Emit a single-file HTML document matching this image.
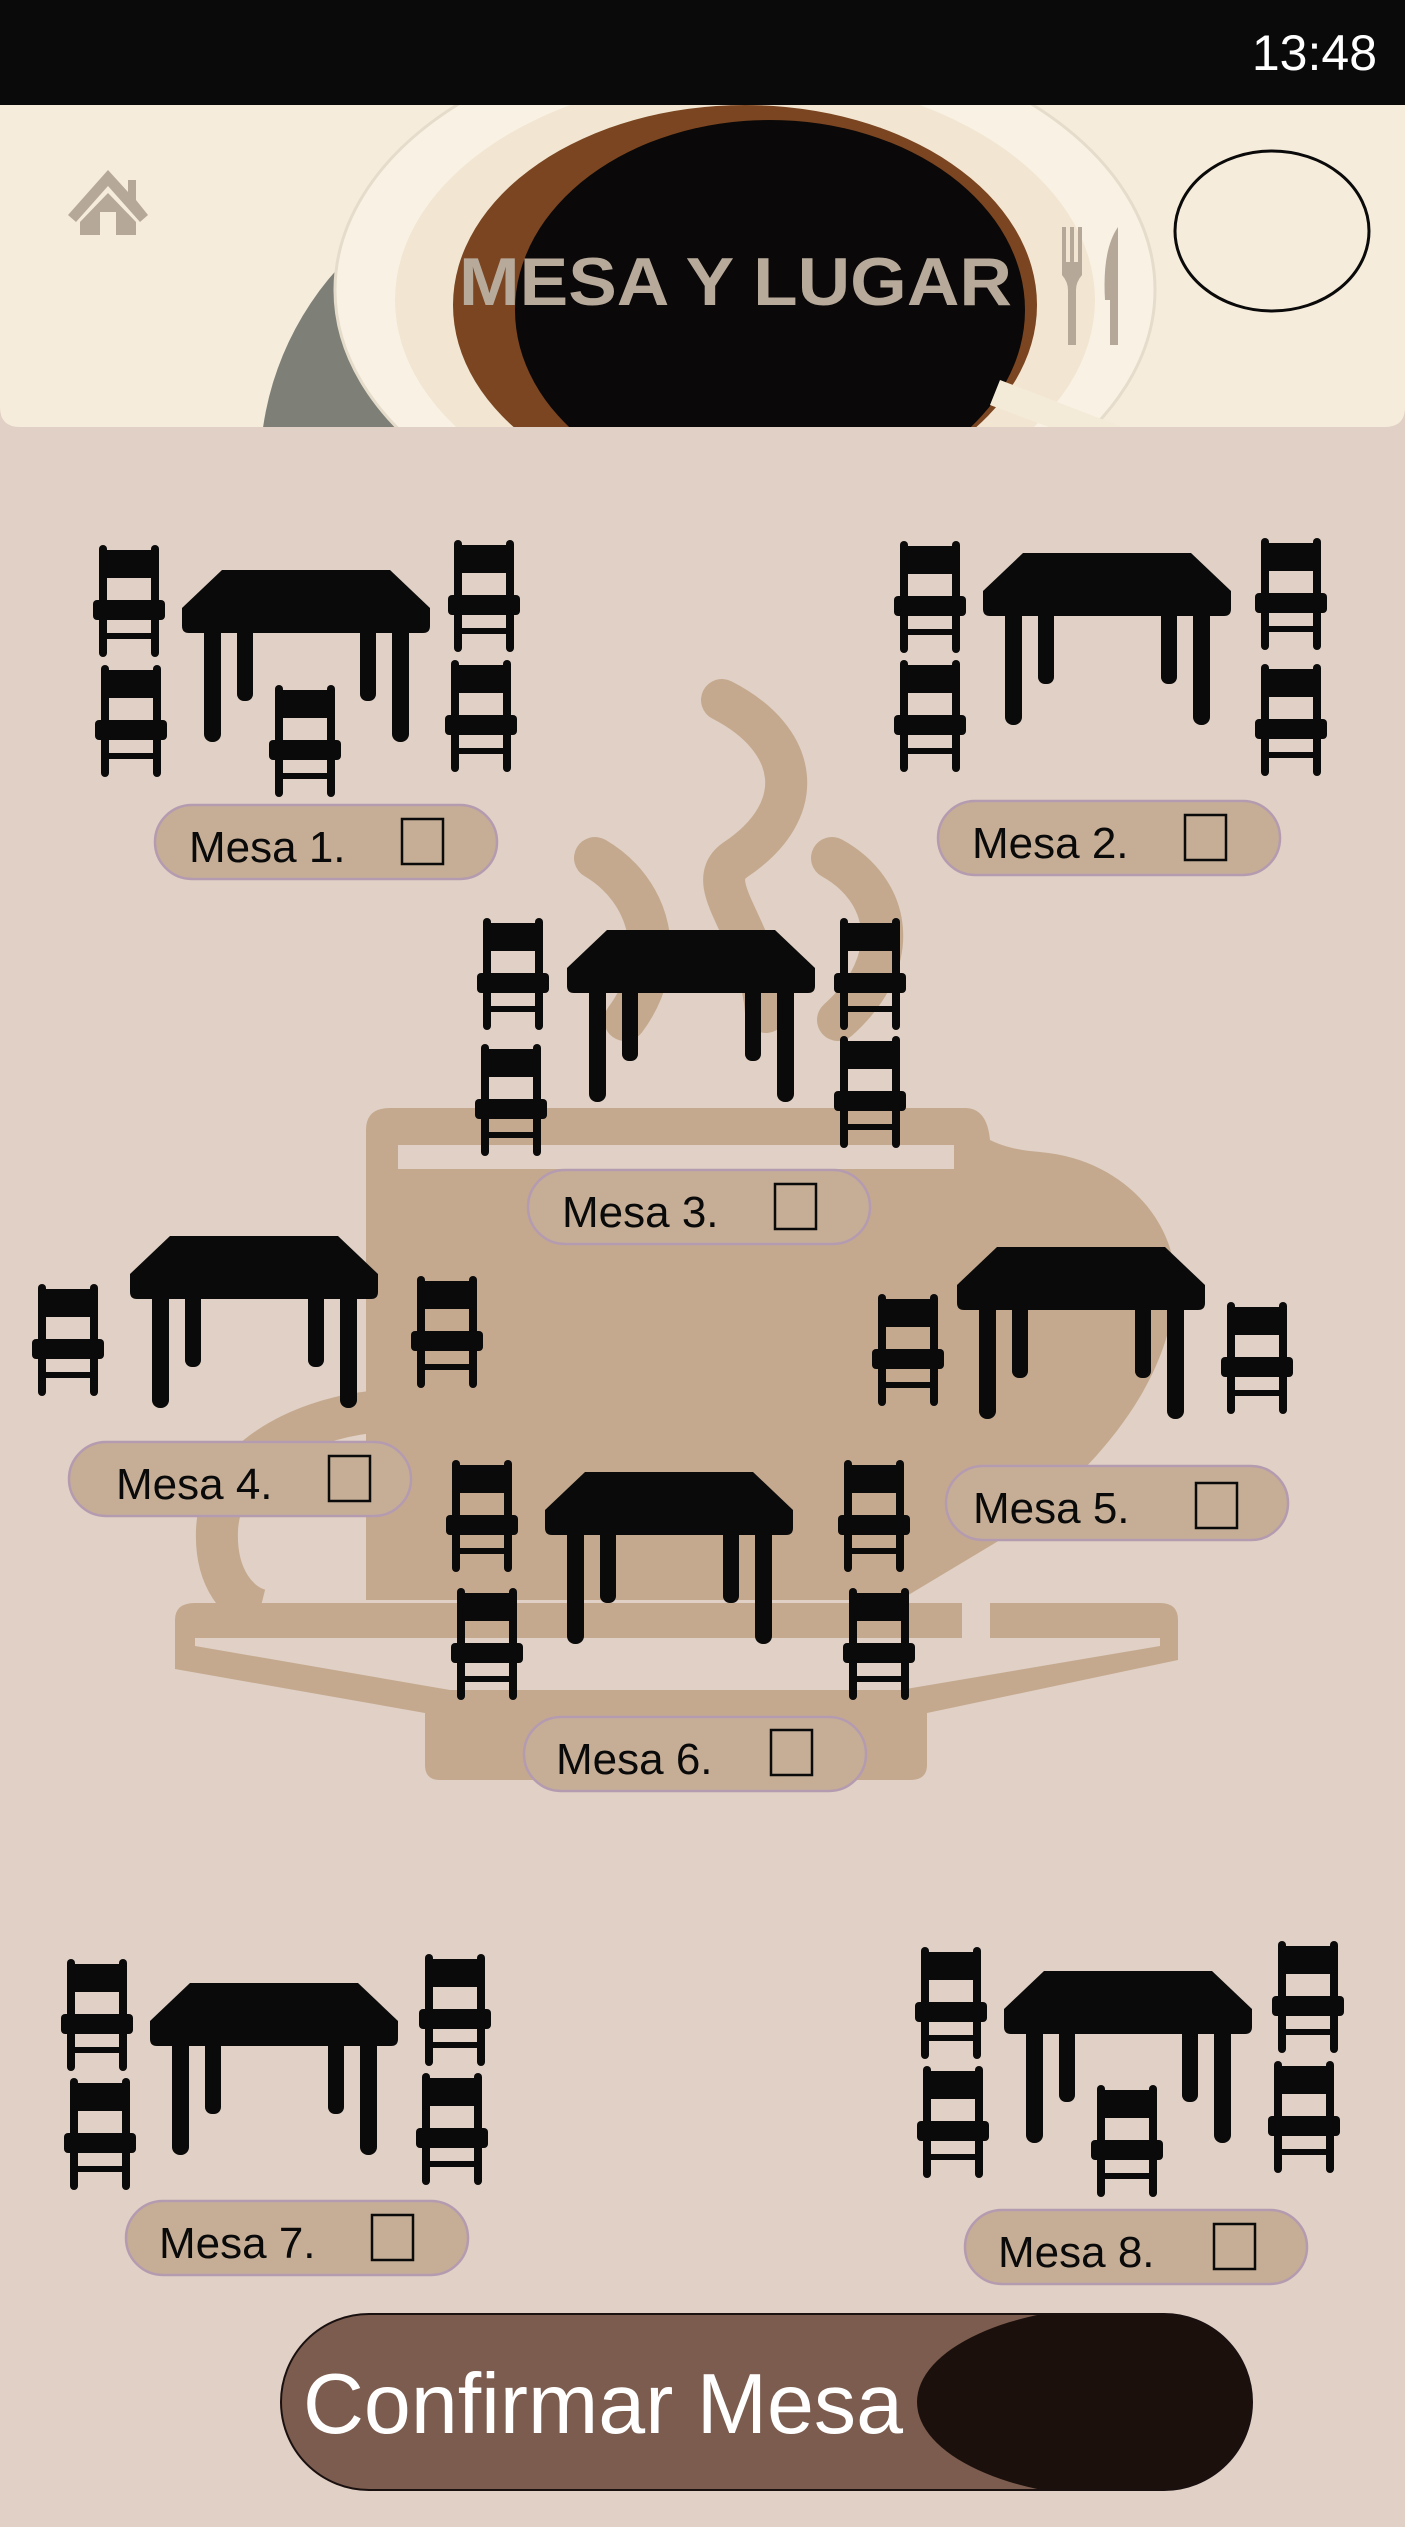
<!DOCTYPE html>
<html><head><meta charset="utf-8"><style>
html,body{margin:0;padding:0;background:#e0d0c5;}
svg{display:block;}
text{font-family:"Liberation Sans",Arial,sans-serif;}
</style></head><body>
<svg width="1405" height="2527" viewBox="0 0 1405 2527" xmlns="http://www.w3.org/2000/svg">
<defs>
<symbol id="table" viewBox="0 0 248 172" width="248" height="172">
<path d="M40,0 H208 L248,38 V56 Q248,63 241,63 H7 Q0,63 0,56 V38 Z" fill="#0a0a0a"/>
<rect x="22" y="55" width="17" height="117" rx="8" fill="#0a0a0a"/>
<rect x="55" y="55" width="16" height="76" rx="7" fill="#0a0a0a"/>
<rect x="178" y="55" width="16" height="76" rx="7" fill="#0a0a0a"/>
<rect x="210" y="55" width="17" height="117" rx="8" fill="#0a0a0a"/>
</symbol>
<symbol id="chair" viewBox="0 0 72 112" width="72" height="112">
<rect x="6" y="0" width="8" height="112" rx="4" fill="#0a0a0a"/>
<rect x="58" y="0" width="8" height="112" rx="4" fill="#0a0a0a"/>
<rect x="6" y="5" width="60" height="28" fill="#0a0a0a"/>
<rect x="0" y="55" width="72" height="20" rx="4" fill="#0a0a0a"/>
<rect x="8" y="88" width="56" height="6" fill="#0a0a0a"/>
</symbol>
<clipPath id="hdrclip"><path d="M0,105 H1405 V407 Q1405,427 1385,427 H20 Q0,427 0,407 Z"/></clipPath>
<clipPath id="btnclip"><rect x="281" y="2314" width="971" height="176" rx="88"/></clipPath>
</defs>

<rect x="0" y="0" width="1405" height="2527" fill="#e0d0c5"/>

<g fill="#c4a98e" stroke="none">
<g fill="none" stroke="#c4a98e" stroke-width="42" stroke-linecap="round">
<path d="M722,700 C800,740 810,810 735,860 C700,885 760,930 766,1012"/>
<path d="M595,858 C650,890 670,960 625,1020"/>
<path d="M832,858 C890,890 905,960 838,1020"/>
</g>
<path d="M366,1130 Q366,1108 390,1108 H965 Q987,1108 990,1140 Q1010,1150 1040,1152 C1130,1160 1180,1230 1175,1290 C1170,1380 1100,1470 1000,1540 L900,1600 H366 Z"/>
<rect x="398" y="1145" width="556" height="24" fill="#e0d0c5"/>
<path d="M371,1412 C300,1420 220,1460 217,1530 C215,1580 240,1605 260,1610" fill="none" stroke="#c4a98e" stroke-width="42"/>
<path d="M195,1603 H1160 Q1178,1603 1178,1620 V1660 L927,1713 V1765 Q927,1780 910,1780 H440 Q425,1780 425,1765 V1713 L175,1669 V1620 Q175,1603 195,1603 Z"/>
<path d="M195,1638 H1160 V1646 L900,1690 H450 L195,1646 Z" fill="#e0d0c5"/>
<rect x="962" y="1600" width="28" height="40" fill="#e0d0c5"/>
</g>

<rect x="0" y="0" width="1405" height="105" fill="#0a0a0a"/>
<text x="1377" y="70" font-size="50" fill="#ffffff" text-anchor="end">13:48</text>

<g clip-path="url(#hdrclip)">
<rect x="0" y="105" width="1405" height="322" fill="#f6ecdc"/>
<ellipse cx="560" cy="470" rx="300" ry="300" fill="#7e8078"/>
<ellipse cx="745" cy="290" rx="410" ry="260" fill="#f9f2e4" stroke="#e6dccb" stroke-width="3"/>
<ellipse cx="745" cy="300" rx="350" ry="225" fill="#f2e6d2"/>
<ellipse cx="745" cy="305" rx="292" ry="200" fill="#7a4520"/>
<ellipse cx="770" cy="310" rx="255" ry="190" fill="#0a0808"/>
<path d="M1000,380 L1130,430 L1110,450 L990,405 Z" fill="#f4ead8"/>
</g>
<g fill="#b5a898">
<path d="M108,170 L68,215 L76,222 L108,186 L140,222 L148,215 L136,200 V180 H128 V192 Z"/>
<path d="M80,222 L108,193 L136,222 V235 H116 V212 H100 V235 H80 Z"/>
</g>
<text x="459" y="305" font-size="68" font-weight="bold" fill="#b8aa9b" textLength="553" lengthAdjust="spacingAndGlyphs">MESA Y LUGAR</text>
<g fill="#b5a898">
<rect x="1062" y="227" width="4" height="40"/><rect x="1070" y="227" width="4" height="40"/><rect x="1078" y="227" width="4" height="40"/>
<path d="M1062,262 H1082 V275 Q1076,282 1076,290 V345 H1068 V290 Q1068,282 1062,275 Z"/>
<path d="M1118,227 Q1102,250 1105,300 H1110 V345 H1118 Z"/>
</g>
<ellipse cx="1272" cy="231" rx="97" ry="80" fill="none" stroke="#0a0a0a" stroke-width="3"/>

<g>
<use href="#table" x="182" y="570"/>
<use href="#chair" x="93" y="545"/>
<use href="#chair" x="95" y="665"/>
<use href="#chair" x="269" y="685"/>
<use href="#chair" x="448" y="540"/>
<use href="#chair" x="445" y="660"/>
</g>
<g>
<use href="#table" x="983" y="553"/>
<use href="#chair" x="894" y="541"/>
<use href="#chair" x="894" y="660"/>
<use href="#chair" x="1255" y="538"/>
<use href="#chair" x="1255" y="664"/>
</g>
<g>
<use href="#table" x="567" y="930"/>
<use href="#chair" x="477" y="918"/>
<use href="#chair" x="475" y="1044"/>
<use href="#chair" x="834" y="918"/>
<use href="#chair" x="834" y="1036"/>
</g>
<g>
<use href="#table" x="130" y="1236"/>
<use href="#chair" x="32" y="1284"/>
<use href="#chair" x="411" y="1276"/>
</g>
<g>
<use href="#table" x="957" y="1247"/>
<use href="#chair" x="872" y="1294"/>
<use href="#chair" x="1221" y="1302"/>
</g>
<g>
<use href="#table" x="545" y="1472"/>
<use href="#chair" x="446" y="1460"/>
<use href="#chair" x="451" y="1588"/>
<use href="#chair" x="838" y="1460"/>
<use href="#chair" x="843" y="1588"/>
</g>
<g>
<use href="#table" x="150" y="1983"/>
<use href="#chair" x="61" y="1959"/>
<use href="#chair" x="64" y="2078"/>
<use href="#chair" x="419" y="1954"/>
<use href="#chair" x="416" y="2073"/>
</g>
<g>
<use href="#table" x="1004" y="1971"/>
<use href="#chair" x="915" y="1947"/>
<use href="#chair" x="917" y="2066"/>
<use href="#chair" x="1091" y="2085"/>
<use href="#chair" x="1272" y="1941"/>
<use href="#chair" x="1268" y="2061"/>
</g>

<g transform="translate(155,805)">
<rect x="0" y="0" width="342" height="74" rx="37" fill="#c6ae96" stroke="#b49bb0" stroke-width="2.5"/>
<text x="34" y="57" font-size="44" fill="#0a0a0a">Mesa 1.</text>
<rect x="247" y="14" width="41" height="45" fill="none" stroke="#0a0a0a" stroke-width="2.5"/>
</g>
<g transform="translate(938,801)">
<rect x="0" y="0" width="342" height="74" rx="37" fill="#c6ae96" stroke="#b49bb0" stroke-width="2.5"/>
<text x="34" y="57" font-size="44" fill="#0a0a0a">Mesa 2.</text>
<rect x="247" y="14" width="41" height="45" fill="none" stroke="#0a0a0a" stroke-width="2.5"/>
</g>
<g transform="translate(528,1170)">
<rect x="0" y="0" width="342" height="74" rx="37" fill="#c6ae96" stroke="#b49bb0" stroke-width="2.5"/>
<text x="34" y="57" font-size="44" fill="#0a0a0a">Mesa 3.</text>
<rect x="247" y="14" width="41" height="45" fill="none" stroke="#0a0a0a" stroke-width="2.5"/>
</g>
<g transform="translate(69,1442)">
<rect x="0" y="0" width="342" height="74" rx="37" fill="#c6ae96" stroke="#b49bb0" stroke-width="2.5"/>
<text x="47" y="57" font-size="44" fill="#0a0a0a">Mesa 4.</text>
<rect x="260" y="14" width="41" height="45" fill="none" stroke="#0a0a0a" stroke-width="2.5"/>
</g>
<g transform="translate(946,1466)">
<rect x="0" y="0" width="342" height="74" rx="37" fill="#c6ae96" stroke="#b49bb0" stroke-width="2.5"/>
<text x="27" y="57" font-size="44" fill="#0a0a0a">Mesa 5.</text>
<rect x="250" y="17" width="41" height="45" fill="none" stroke="#0a0a0a" stroke-width="2.5"/>
</g>
<g transform="translate(524,1717)">
<rect x="0" y="0" width="342" height="74" rx="37" fill="#c6ae96" stroke="#b49bb0" stroke-width="2.5"/>
<text x="32" y="57" font-size="44" fill="#0a0a0a">Mesa 6.</text>
<rect x="247" y="13" width="41" height="45" fill="none" stroke="#0a0a0a" stroke-width="2.5"/>
</g>
<g transform="translate(126,2201)">
<rect x="0" y="0" width="342" height="74" rx="37" fill="#c6ae96" stroke="#b49bb0" stroke-width="2.5"/>
<text x="33" y="57" font-size="44" fill="#0a0a0a">Mesa 7.</text>
<rect x="246" y="14" width="41" height="45" fill="none" stroke="#0a0a0a" stroke-width="2.5"/>
</g>
<g transform="translate(965,2210)">
<rect x="0" y="0" width="342" height="74" rx="37" fill="#c6ae96" stroke="#b49bb0" stroke-width="2.5"/>
<text x="33" y="57" font-size="44" fill="#0a0a0a">Mesa 8.</text>
<rect x="249" y="14" width="41" height="45" fill="none" stroke="#0a0a0a" stroke-width="2.5"/>
</g>

<g>
<rect x="281" y="2314" width="971" height="176" rx="88" fill="#7b5c4e"/>
<g clip-path="url(#btnclip)">
<ellipse cx="1125" cy="2402" rx="208" ry="96" fill="#1c100d"/>
<rect x="1125" y="2300" width="140" height="200" fill="#1c100d"/>
</g>
<rect x="281" y="2314" width="971" height="176" rx="88" fill="none" stroke="#1a1010" stroke-width="2"/>
<text x="303" y="2433" font-size="85" fill="#ffffff" textLength="600" lengthAdjust="spacingAndGlyphs">Confirmar Mesa</text>
</g>
</svg>
</body></html>
